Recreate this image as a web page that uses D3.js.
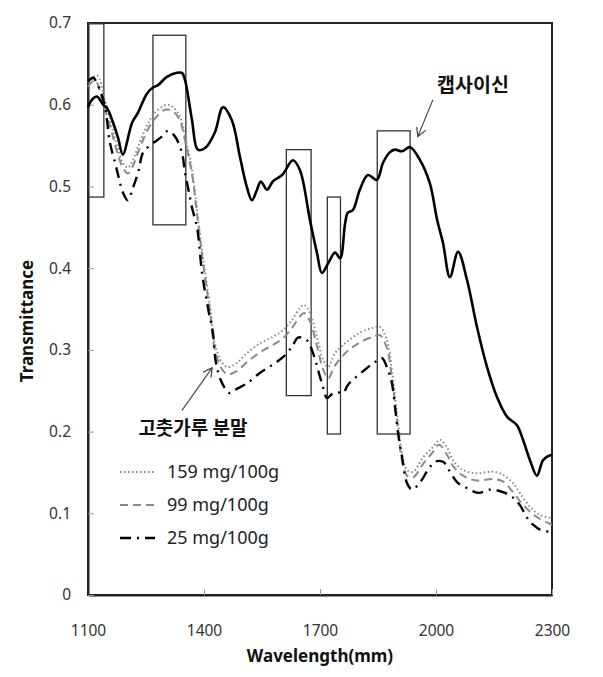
<!DOCTYPE html>
<html>
<head>
<meta charset="utf-8">
<script src="https://cdn.jsdelivr.net/npm/d3@7"></script>
<style>
  html, body { margin: 0; padding: 0; background: #fff; }
</style>
</head>
<body>
<svg id="chart" width="603" height="677"></svg>
<script>
// wavelength (nm as labelled "mm"), transmittance
const capsaicin = [
  [1100,0.597],[1110,0.606],[1123,0.610],[1139,0.600],[1149,0.596],[1165,0.578],
  [1178,0.559],[1190,0.539],[1214,0.578],[1229,0.590],[1253,0.614],[1268,0.621],
  [1281,0.624],[1304,0.634],[1330,0.639],[1343,0.639],[1351,0.630],[1369,0.581],
  [1384,0.545],[1403,0.547],[1428,0.566],[1449,0.597],[1472,0.581],[1493,0.536],
  [1511,0.499],[1524,0.483],[1537,0.496],[1547,0.506],[1563,0.496],[1578,0.506],
  [1602,0.514],[1630,0.532],[1648,0.520],[1674,0.459],[1692,0.419],[1705,0.394],
  [1721,0.406],[1739,0.419],[1752,0.412],[1765,0.455],[1772,0.468],[1785,0.471],
  [1803,0.496],[1824,0.514],[1847,0.508],[1863,0.529],[1881,0.542],[1894,0.545],
  [1912,0.543],[1933,0.548],[1959,0.532],[1984,0.504],[2003,0.459],[2018,0.431],
  [2036,0.389],[2057,0.420],[2080,0.386],[2106,0.328],[2132,0.279],[2158,0.242],
  [2184,0.218],[2209,0.208],[2225,0.190],[2243,0.165],[2261,0.146],[2277,0.165],
  [2295,0.171],[2300,0.171]
];

const mg159 = [
  [1100,0.627],[1123,0.636],[1144,0.606],[1162,0.573],[1178,0.545],[1190,0.529],
  [1203,0.523],[1216,0.532],[1229,0.548],[1253,0.575],[1273,0.590],[1304,0.600],
  [1320,0.597],[1338,0.585],[1351,0.561],[1369,0.520],[1384,0.463],[1397,0.414],
  [1416,0.352],[1428,0.308],[1447,0.284],[1462,0.279],[1485,0.284],[1511,0.296],
  [1545,0.308],[1578,0.316],[1604,0.324],[1628,0.337],[1648,0.351],[1659,0.355],
  [1674,0.345],[1692,0.316],[1708,0.288],[1721,0.279],[1739,0.296],[1770,0.310],
  [1803,0.321],[1837,0.327],[1855,0.328],[1873,0.312],[1886,0.275],[1899,0.223],
  [1912,0.174],[1925,0.153],[1941,0.151],[1966,0.168],[1992,0.181],[2010,0.190],
  [2028,0.181],[2044,0.165],[2070,0.153],[2106,0.149],[2147,0.151],[2173,0.147],
  [2199,0.137],[2217,0.125],[2243,0.108],[2269,0.098],[2300,0.094]
];

const mg99 = [
  [1100,0.622],[1118,0.630],[1140,0.600],[1162,0.565],[1178,0.538],[1190,0.523],
  [1203,0.516],[1216,0.525],[1229,0.541],[1253,0.568],[1273,0.583],[1300,0.594],
  [1320,0.592],[1338,0.580],[1351,0.556],[1369,0.515],[1384,0.458],[1397,0.408],
  [1416,0.345],[1428,0.300],[1447,0.276],[1462,0.270],[1485,0.274],[1511,0.285],
  [1545,0.297],[1578,0.306],[1604,0.314],[1628,0.327],[1648,0.341],[1659,0.345],
  [1674,0.335],[1692,0.305],[1708,0.276],[1721,0.265],[1739,0.281],[1770,0.298],
  [1803,0.309],[1837,0.316],[1855,0.318],[1873,0.302],[1886,0.265],[1899,0.213],
  [1912,0.165],[1925,0.146],[1941,0.144],[1966,0.160],[1992,0.175],[2008,0.184],
  [2028,0.172],[2044,0.158],[2070,0.146],[2106,0.140],[2147,0.142],[2173,0.139],
  [2199,0.126],[2217,0.115],[2243,0.102],[2269,0.093],[2300,0.086]
];

const mg25 = [
  [1100,0.628],[1113,0.633],[1131,0.618],[1144,0.597],[1157,0.553],[1170,0.529],
  [1180,0.510],[1190,0.493],[1203,0.483],[1216,0.498],[1229,0.516],[1242,0.541],
  [1255,0.548],[1291,0.561],[1307,0.568],[1325,0.561],[1343,0.541],[1351,0.516],
  [1359,0.498],[1369,0.474],[1382,0.450],[1395,0.394],[1410,0.352],[1423,0.321],
  [1431,0.284],[1447,0.259],[1467,0.247],[1480,0.251],[1511,0.259],[1545,0.272],
  [1578,0.282],[1604,0.291],[1628,0.304],[1643,0.315],[1666,0.312],[1682,0.296],
  [1700,0.267],[1710,0.251],[1718,0.241],[1734,0.247],[1747,0.248],[1760,0.247],
  [1772,0.257],[1822,0.278],[1842,0.285],[1860,0.290],[1873,0.279],[1886,0.259],
  [1894,0.230],[1902,0.198],[1912,0.169],[1925,0.137],[1938,0.129],[1959,0.138],
  [1979,0.153],[1997,0.163],[2018,0.163],[2041,0.147],[2057,0.137],[2080,0.131],
  [2109,0.125],[2140,0.129],[2173,0.126],[2197,0.120],[2217,0.110],[2235,0.095],
  [2251,0.086],[2269,0.080],[2300,0.077]
];

const xTicks = [1100, 1400, 1700, 2000, 2300];
const yTicks = [0, 0.1, 0.2, 0.3, 0.4, 0.5, 0.6, 0.7];

// highlighted bands: [x0, x1, yLow, yHigh]
const bands = [
  [1100, 1141, 0.487, 0.699],
  [1268, 1353, 0.453, 0.685],
  [1613, 1677, 0.244, 0.545],
  [1719, 1753, 0.197, 0.487],
  [1848, 1933, 0.197, 0.568]
];

const legendLabels = ["159 mg/100g", "99 mg/100g", "25 mg/100g"];

const svg = d3.select("#chart");
const font = "'Noto Sans', 'Open Sans', sans-serif";
const krFont = "'Noto Sans CJK KR', 'Noto Sans', sans-serif";

const margin = { left: 88, right: 51, top: 23, bottom: 82 };
const width = 603, height = 677;

const x = d3.scaleLinear().domain([1100, 2300]).range([margin.left, width - margin.right]);
const y = d3.scaleLinear().domain([0, 0.7]).range([height - margin.bottom, margin.top]);

// frame
svg.append("rect")
  .attr("x", x(1100)).attr("y", y(0.7))
  .attr("width", x(2300) - x(1100)).attr("height", y(0) - y(0.7))
  .attr("fill", "none").attr("stroke", "#222").attr("stroke-width", 2);

// axes (ticks inward)
const xAxis = svg.append("g")
  .attr("transform", `translate(0,${y(0)})`)
  .call(d3.axisBottom(x).tickValues(xTicks).tickSizeInner(-6).tickSizeOuter(0).tickPadding(30)
    .tickFormat(d3.format("d")));
const yAxis = svg.append("g")
  .attr("transform", `translate(${x(1100)},0)`)
  .call(d3.axisLeft(y).tickValues(yTicks).tickSizeInner(-6).tickSizeOuter(0).tickPadding(17)
    .tickFormat(d => d === 0 ? "0" : d3.format(".1f")(d)));

[xAxis, yAxis].forEach(a => {
  a.select(".domain").attr("stroke", "#222").attr("stroke-width", 2);
  a.selectAll(".tick line").attr("stroke", "#999").attr("stroke-width", 1);
  a.selectAll(".tick text")
    .attr("fill", "#333")
    .style("font-family", font)
    .style("font-size", "15.5px");
});

// axis titles
svg.append("text")
  .attr("transform", `translate(33,${(y(0) + y(0.7)) / 2 + 12}) rotate(-90)`)
  .attr("text-anchor", "middle")
  .style("font-family", font).style("font-size", "17px").style("font-weight", "bold")
  .attr("fill", "#111")
  .text("Transmittance");

svg.append("text")
  .attr("x", 320).attr("y", 662)
  .attr("text-anchor", "middle")
  .style("font-family", font).style("font-size", "17px").style("font-weight", "bold")
  .attr("fill", "#111")
  .text("Wavelength(mm)");

// bands
svg.append("g").selectAll("rect")
  .data(bands)
  .join("rect")
  .attr("x", d => x(d[0]))
  .attr("y", d => y(d[3]))
  .attr("width", d => x(d[1]) - x(d[0]))
  .attr("height", d => y(d[2]) - y(d[3]))
  .attr("fill", "none")
  .attr("stroke", "#333")
  .attr("stroke-width", 1.3);

const line = d3.line()
  .x(d => x(d[0]))
  .y(d => y(d[1]))
  .curve(d3.curveCatmullRom.alpha(0.5));

const series = [
  { data: mg159, color: "#8a8a8a", width: 2, dash: "1.5,2.5" },
  { data: mg99, color: "#8a8a8a", width: 2, dash: "8,5" },
  { data: mg25, color: "#000", width: 2.4, dash: "11,6,2,6" },
  { data: capsaicin, color: "#000", width: 2.6, dash: null }
];

series.forEach(s => {
  svg.append("path")
    .datum(s.data)
    .attr("fill", "none")
    .attr("stroke", s.color)
    .attr("stroke-width", s.width)
    .attr("stroke-dasharray", s.dash)
    .attr("stroke-linejoin", "round")
    .attr("d", line);
});

// annotations
svg.append("defs").append("marker")
  .attr("id", "arrow")
  .attr("viewBox", "0 0 10 10")
  .attr("refX", 9).attr("refY", 5)
  .attr("markerWidth", 10).attr("markerHeight", 10)
  .attr("markerUnits", "userSpaceOnUse")
  .attr("orient", "auto")
  .append("path")
  .attr("d", "M0,0 L9,5 L0,10")
  .attr("fill", "none")
  .attr("stroke", "#444")
  .attr("stroke-width", 1.2);

const arrows = [
  [1992, 0.606, 1953, 0.561],
  [1343, 0.226, 1421, 0.278]
];
svg.append("g").selectAll("line")
  .data(arrows)
  .join("line")
  .attr("x1", d => x(d[0])).attr("y1", d => y(d[1]))
  .attr("x2", d => x(d[2])).attr("y2", d => y(d[3]))
  .attr("stroke", "#444").attr("stroke-width", 1.1)
  .attr("marker-end", "url(#arrow)");

svg.append("text")
  .attr("x", 473).attr("y", 92)
  .attr("text-anchor", "middle")
  .style("font-family", krFont).style("font-size", "19.5px").style("font-weight", "bold")
  .attr("fill", "#111")
  .text("캡사이신");

svg.append("text")
  .attr("x", 193).attr("y", 435)
  .attr("text-anchor", "middle")
  .style("font-family", krFont).style("font-size", "19px").style("font-weight", "bold")
  .attr("fill", "#111")
  .text("고춧가루 분말");

// legend
const legend = svg.append("g").attr("transform", "translate(120,472)");
series.slice(0, 3).forEach((s, i) => {
  const row = legend.append("g").attr("transform", `translate(0,${i * 33})`);
  row.append("line")
    .attr("x1", 0).attr("x2", 35).attr("y1", 0).attr("y2", 0)
    .attr("stroke", s.color)
    .attr("stroke-width", s.width)
    .attr("stroke-dasharray", s.dash);
  row.append("text")
    .attr("x", 47).attr("y", 6)
    .style("font-family", font).style("font-size", "18px")
    .attr("fill", "#222")
    .text(legendLabels[i]);
});
</script>
</body>
</html>
